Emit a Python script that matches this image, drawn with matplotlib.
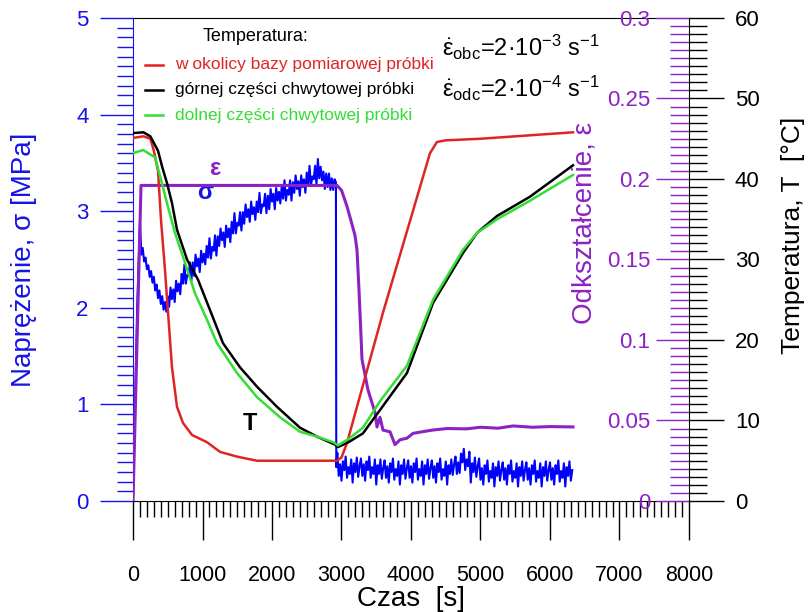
import numpy as np
import matplotlib.pyplot as plt
from matplotlib.ticker import MultipleLocator, FuncFormatter

plt.rcParams['font.family'] = ['Liberation Sans', 'DejaVu Sans']
plt.rcParams['mathtext.fontset'] = 'custom'
plt.rcParams['mathtext.rm'] = 'Liberation Sans'
plt.rcParams['mathtext.it'] = 'Liberation Sans:italic'

BLUE = '#1414e6'
PURPLE = '#8c22c4'
RED = '#e02424'
GREEN = '#33dd33'

# --- stress sigma [MPa] ---
sig_start_t = [0, 60, 100]
sig_start_v = [0.0, 2.0, 2.89]
# loading part, one value every 20 s from 120 s
sig_load_v = [2.55, 2.62, 2.48, 2.52, 2.40, 2.44, 2.32, 2.38, 2.26, 2.32,
              2.18, 2.24, 2.10, 2.18, 2.04, 2.12, 1.98, 2.06, 1.96,
              2.12, 2.01, 2.21, 2.09, 2.19, 2.06, 2.28, 2.17, 2.25, 2.14,
              2.35, 2.25, 2.45, 2.25, 2.34, 2.33, 2.47, 2.28, 2.47, 2.33,
              2.55, 2.43, 2.51, 2.37, 2.59, 2.47, 2.56, 2.45, 2.64, 2.52,
              2.72, 2.51, 2.63, 2.59, 2.75, 2.54, 2.74, 2.64, 2.82, 2.70,
              2.78, 2.63, 2.85, 2.73, 2.82, 2.68, 2.89, 2.77, 2.98, 2.77,
              2.88, 2.85, 2.99, 2.80, 2.99, 2.87, 3.07, 2.94, 3.02, 2.89,
              3.10, 2.97, 3.04, 2.91, 3.10, 2.99, 3.19, 2.98, 3.07, 3.05,
              3.18, 2.98, 3.16, 3.02, 3.23, 3.10, 3.18, 3.02, 3.24, 3.11,
              3.20, 3.08, 3.26, 3.13, 3.32, 3.11, 3.22, 3.17, 3.32, 3.11,
              3.30, 3.19, 3.37, 3.23, 3.31, 3.16, 3.37, 3.25, 3.33, 3.19,
              3.40, 3.27, 3.47, 3.26, 3.36, 3.33, 3.47, 3.27, 3.54, 3.34,
              3.46, 3.32, 3.41, 3.23, 3.39, 3.25, 3.39, 3.22, 3.34, 3.22,
              3.33, 3.30]
# after unloading, one value every 20 s from 2940 s
sig_rest_v = [0.50, 0.26, 0.38, 0.21, 0.41, 0.32, 0.46, 0.24, 0.35, 0.28,
              0.43, 0.19, 0.39, 0.30, 0.45, 0.25, 0.36, 0.44, 0.26, 0.38,
              0.21, 0.41, 0.32, 0.46, 0.24, 0.35, 0.28, 0.43, 0.17, 0.37,
              0.28, 0.43, 0.23, 0.34, 0.42, 0.24, 0.36, 0.19, 0.39, 0.30,
              0.44, 0.22, 0.33, 0.26, 0.41, 0.17, 0.37, 0.28, 0.43, 0.23,
              0.34, 0.42, 0.24, 0.36, 0.19, 0.39, 0.30, 0.44, 0.22, 0.33,
              0.26, 0.41, 0.17, 0.37, 0.28, 0.43, 0.23, 0.34, 0.42, 0.24,
              0.36, 0.19, 0.39, 0.30, 0.44, 0.22, 0.33, 0.26, 0.41, 0.17,
              0.37, 0.28, 0.43, 0.27, 0.38, 0.46, 0.28, 0.40, 0.29, 0.49,
              0.40, 0.54, 0.32, 0.43, 0.36, 0.51, 0.19, 0.39, 0.30, 0.45,
              0.25, 0.36, 0.44, 0.22, 0.34, 0.17, 0.37, 0.28, 0.42, 0.20,
              0.31, 0.24, 0.39, 0.15, 0.35, 0.26, 0.41, 0.21, 0.32, 0.40,
              0.22, 0.34, 0.17, 0.37, 0.28, 0.42, 0.20, 0.31, 0.24, 0.39,
              0.15, 0.35, 0.26, 0.41, 0.21, 0.32, 0.40, 0.22, 0.34, 0.17,
              0.37, 0.28, 0.42, 0.20, 0.31, 0.24, 0.39, 0.15, 0.35, 0.26,
              0.41, 0.21, 0.32, 0.40, 0.22, 0.34, 0.17, 0.37, 0.28, 0.42,
              0.20, 0.31, 0.24, 0.39, 0.15, 0.35, 0.26, 0.41, 0.21, 0.32]

# --- strain eps ---
eps_t = [0, 115, 2935, 3000, 3079, 3150, 3194, 3223, 3252, 3266, 3295, 3381,
         3482, 3511, 3554, 3597, 3698, 3770, 3842, 3942, 4029, 4300, 4518,
         4800, 5000, 5250, 5468, 5750, 6000, 6331]
eps_v = [0, 0.196, 0.196, 0.193, 0.183, 0.172, 0.165, 0.156, 0.131, 0.117,
         0.088, 0.069, 0.055, 0.046, 0.052, 0.044, 0.043, 0.035, 0.038, 0.039,
         0.042, 0.044, 0.045, 0.0448, 0.0458, 0.0452, 0.0466, 0.0458, 0.0462,
         0.046]

# --- temperatures [C] ---
red_t = [0, 150, 250, 300, 360, 403, 460, 504, 561, 633, 719, 849, 1065, 1252,
         1500, 1784, 2935, 3000, 3079, 3597, 4273, 4374, 4500, 5000, 5500,
         6000, 6331]
red_T = [45.1, 45.3, 45.0, 43.5, 41.0, 34.9, 28.7, 23.4, 16.6, 11.7, 9.7, 8.2,
         7.3, 6.1, 5.5, 5.0, 5.0, 5.4, 7.2, 23.4, 43.2, 44.6, 44.8, 45.0,
         45.3, 45.6, 45.8]
black_t = [0, 150, 250, 360, 420, 489, 561, 633, 777, 935, 1127, 1295, 1540,
           1784, 2072, 2403, 2647, 2906, 2950, 3100, 3309, 3554, 3942, 4317,
           4748, 4950, 5237, 5712, 6331]
black_T = [45.7, 45.8, 45.3, 43.5, 41.5, 39.5, 37.0, 33.7, 30.0, 27.5, 23.3,
           19.6, 16.6, 14.2, 11.7, 9.1, 8.0, 7.0, 6.7, 7.3, 8.4, 11.3, 15.9,
           24.6, 30.8, 33.3, 35.4, 37.8, 41.7]
green_t = [0, 144, 317, 403, 504, 604, 748, 892, 1065, 1209, 1496, 1784, 2115,
           2403, 2647, 2878, 2950, 3100, 3309, 3554, 3942, 4317, 4748, 4950,
           5237, 5712, 6331]
green_T = [43.2, 43.6, 42.7, 39.9, 36.5, 33.3, 29.6, 25.8, 22.5, 19.6, 15.9,
           12.9, 10.4, 8.6, 8.0, 7.3, 6.9, 7.7, 9.1, 12.4, 16.8, 25.0, 31.2,
           33.3, 35.0, 37.3, 40.5]

sig_t = (sig_start_t + list(120 + 20 * np.arange(len(sig_load_v)))
         + [2925] + list(2940 + 20 * np.arange(len(sig_rest_v))))
sig_v = sig_start_v + sig_load_v + [0.35] + sig_rest_v

fig = plt.figure(figsize=(8.1, 6.12), dpi=100)
ax = fig.add_axes([0.1642, 0.1814, 0.6864, 0.7892])
ax2 = ax.twinx()
ax3 = ax.twinx()

ax.plot(sig_t, sig_v, color='#0000ff', lw=1.5, zorder=3)
ax2.plot(eps_t, eps_v, color=PURPLE, lw=2.2)
ax3.plot(red_t, red_T, color=RED, lw=1.8)
ax3.plot(black_t, black_T, color='black', lw=1.8)
ax3.plot(green_t, green_T, color=GREEN, lw=1.8)

ax.set_xlim(0, 8000)
ax.set_ylim(0, 5)
ax2.set_ylim(0, 0.3)
ax3.set_ylim(0, 60)

# x axis
ax.xaxis.set_major_locator(MultipleLocator(1000))
ax.xaxis.set_minor_locator(MultipleLocator(100))
ax.tick_params(axis='x', which='major', length=28, width=1, pad=18, labelsize=15.5)
ax.tick_params(axis='x', which='minor', length=11.5, width=1)
ax.set_xlabel('Czas  [s]', fontsize=20, labelpad=0)

# left axis (stress)
ax.yaxis.set_major_locator(MultipleLocator(1))
ax.yaxis.set_minor_locator(MultipleLocator(0.1))
ax.tick_params(axis='y', which='major', length=24, width=1, pad=8, color=BLUE,
               labelcolor=BLUE, labelsize=16)
ax.tick_params(axis='y', which='minor', length=11.5, width=1, color=BLUE)
ax.spines['left'].set_color(BLUE)
ax.spines['right'].set_visible(False)
ax.set_ylabel('Naprężenie, σ [MPa]', color=BLUE, fontsize=20)
ax.yaxis.set_label_coords(-0.172, 0.5)

# purple axis (strain), ticks inside the frame on the right
for s in ax2.spines.values():
    s.set_visible(False)
ax2.yaxis.set_major_locator(MultipleLocator(0.05))
ax2.yaxis.set_minor_locator(MultipleLocator(0.005))
ax2.yaxis.set_major_formatter(FuncFormatter(lambda v, p: '%g' % round(v, 3)))
ax2.tick_params(axis='y', which='major', direction='in', length=24, width=1,
                color=PURPLE, labelcolor=PURPLE, labelsize=16, pad=-28)
ax2.tick_params(axis='y', which='minor', direction='in', length=13.5, width=1,
                color=PURPLE)
for lab in ax2.get_yticklabels():
    lab.set_horizontalalignment('right')
ax2.set_ylabel('Odkształcenie, ε', color=PURPLE, fontsize=20)
ax2.yaxis.set_label_coords(0.788, 0.576)

# temperature axis
for side in ['left', 'top', 'bottom']:
    ax3.spines[side].set_visible(False)
ax3.yaxis.set_major_locator(MultipleLocator(10))
ax3.yaxis.set_minor_locator(MultipleLocator(1))
ax3.tick_params(axis='y', which='major', length=25, width=1, pad=8, labelsize=16)
ax3.tick_params(axis='y', which='minor', length=13, width=1)
ax3.set_ylabel('Temperatura, T  [°C]', fontsize=19)
ax3.yaxis.set_label_coords(1.166, 0.549)

# legend for temperatures
ax.text(0.221, 0.961, 'Temperatura:', transform=ax.transAxes, fontsize=13,
        ha='center', va='center')
leg_rows = [('w okolicy bazy pomiarowej próbki', RED, 0.903),
            ('górnej części chwytowej próbki', 'black', 0.851),
            ('dolnej części chwytowej próbki', GREEN, 0.799)]
for label, col, yy in leg_rows:
    ax.plot([0.0216, 0.054], [yy, yy], color=col, lw=1.8, transform=ax.transAxes)
    ax.text(0.0755, yy, label, color=col, transform=ax.transAxes, fontsize=12.5,
            va='center')

ax.text(0.556, 0.938, r'$\dot{\mathrm{\varepsilon}}_{\mathrm{obc}}$=2·10$^{\mathrm{-3}}$ s$^{\mathrm{-1}}$',
        transform=ax.transAxes, fontsize=17, va='center')
ax.text(0.556, 0.855, r'$\dot{\mathrm{\varepsilon}}_{\mathrm{odc}}$=2·10$^{\mathrm{-4}}$ s$^{\mathrm{-1}}$',
        transform=ax.transAxes, fontsize=17, va='center')

ax.text(0.147, 0.689, 'ε', color=PURPLE, transform=ax.transAxes, fontsize=17,
        fontweight='bold', ha='center', va='center')
ax.text(0.1295, 0.638, 'σ', color=BLUE, transform=ax.transAxes, fontsize=17,
        fontweight='bold', ha='center', va='center')
ax.text(0.21, 0.161, 'T', color='black', transform=ax.transAxes, fontsize=17,
        fontweight='bold', ha='center', va='center')

fig.savefig('out.png', dpi=100)
